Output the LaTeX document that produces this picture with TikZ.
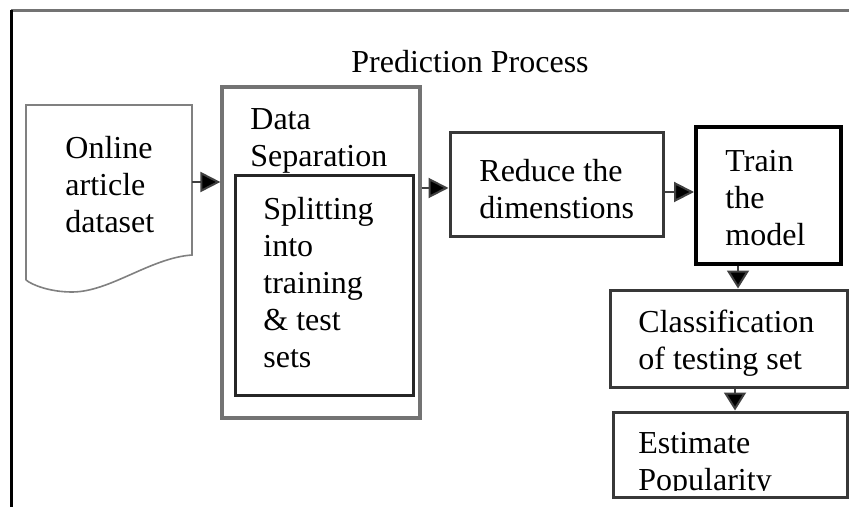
\documentclass[tikz,border=0pt]{standalone}
\usepackage{fontspec}
\setmainfont{Liberation Serif}
\usetikzlibrary{fit,arrows.meta}

\begin{document}
\begin{tikzpicture}[x=0.5pt,y=-0.5pt,
  txt/.style={inner sep=0pt,align=left,anchor=west,font=\fontsize{16}{18.5}\selectfont},
  box/.style={draw=black!78,line width=1.5pt,inner sep=0pt},
  outerbox/.style={draw=black!55,line width=1.6pt,inner sep=0pt},
  boldbox/.style={draw=black,line width=2pt,inner sep=0pt},
  arr/.style={draw=black!75,line width=1pt,-{Triangle[length=10pt,width=10pt,fill=black]}},
  darr/.style={arr,-{Triangle[length=9pt,width=11pt,fill=black]}}]

% canvas
\useasboundingbox (0,0) rectangle (849,507);

% frame lines along the top and left
\draw[black!55,line width=1.5pt] (11,11) -- (849,11);
\draw[black,line width=1.5pt] (11,10) -- (11,507);

% title
\node[txt,anchor=center] (title) at (470,62) {Prediction Process};

% document shape with a wavy bottom edge
\node[inner sep=0pt,fit={(26,105) (192,280)}] (doc) {};
\draw[black!50,line width=0.8pt]
  (26,280) -- (26,105) -- (192,105) -- (192,255)
  .. controls (150,258) and (110,292) .. (72,292)
  .. controls (50,292) and (32,285) .. (26,280);
\node[txt] (doctext) at (65,185) {Online\\article\\dataset};

% data separation block with nested step
\node[outerbox,fit={(222,87) (420,418)}] (data) {};
\node[txt] (datatext) at (250,141) {Data\\Separation};
\node[box,fill=white,draw=black!85,fit={(235,176) (413,395)}] (split) {};
\node[txt] (splittext) at (263,283) {Splitting\\into\\training\\\& test\\sets};

% reduce dimensions
\node[box,fit={(450,133) (663,237)}] (reduce) {};
\node[txt] (reducetext) at (479,189) {Reduce the\\dimenstions};

% train the model
\node[boldbox,fit={(696,127) (841,264)}] (train) {};
\node[txt] (traintext) at (725,198) {Train\\the\\model};

% classification of the testing set
\node[box,fit={(610,290) (847,387)}] (class) {};
\node[txt] (classtext) at (638,343) {Classification\\of testing set};

% estimate popularity
\node[box,fit={(613,412) (847,497)}] (estimate) {};
\begin{scope}
  \clip (615,414) rectangle (845,490);
  \node[txt] (estimatetext) at (638,465) {Estimate\\Popularity};
\end{scope}

% connectors
\draw[arr] (doc.east |- 0,182) -- (data.west |- 0,182);
\draw[arr] (data.east |- 0,188) -- (reduce.west |- 0,188);
\draw[arr] (reduce.east |- 0,192) -- (train.west |- 0,192);
\draw[darr] (train.south -| 738,0) -- (class.north -| 738,0);
\draw[darr] (class.south -| 735,0) -- (estimate.north -| 735,0);

\end{tikzpicture}
\end{document}
